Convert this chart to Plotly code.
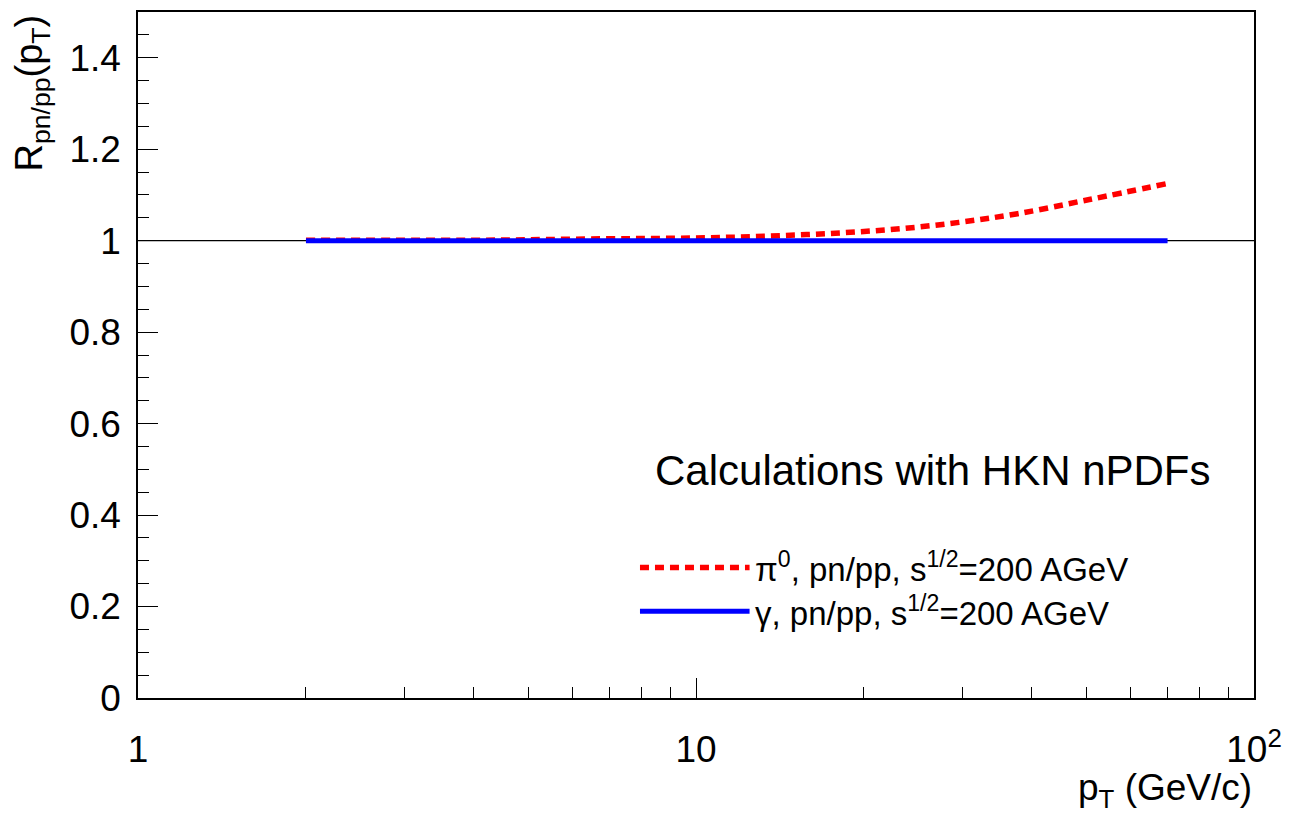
import plotly.graph_objects as go

# Data
pt_pi0 = [2, 3, 4, 5, 6.8, 8.7, 11.1, 14.2, 18.2, 23.2, 29.6, 37.7, 50.7, 70]
r_pi0 = [1.001, 1.001, 1.001, 1.002, 1.004, 1.005, 1.007, 1.011, 1.017, 1.026, 1.040, 1.059, 1.090, 1.125]
pt_gam = [2, 70]
r_gam = [1.0, 1.0]

x_ticks = [1, 10, 100]
x_ticklabels = ["1", "10", "10<sup>2</sup>"]
x_minor = [2, 3, 4, 5, 6, 7, 8, 9, 20, 30, 40, 50, 60, 70, 80, 90]
y_ticks = [0, 0.2, 0.4, 0.6, 0.8, 1.0, 1.2, 1.4]
y_ticklabels = ["0", "0.2", "0.4", "0.6", "0.8", "1", "1.2", "1.4"]

FONT = "Liberation Sans"

fig = go.Figure()
fig.add_trace(go.Scatter(x=pt_pi0, y=r_pi0, mode="lines", line=dict(color="#ff0000", width=5.5, dash="9px,6px", shape="spline"), showlegend=False))
fig.add_trace(go.Scatter(x=pt_gam, y=r_gam, mode="lines", line=dict(color="#0000ff", width=5), showlegend=False))

fig.add_shape(type="line", xref="paper", yref="y", x0=0, x1=1, y0=1, y1=1, line=dict(color="black", width=1.2), layer="below")

# legend samples
fig.add_shape(type="line", xref="paper", yref="paper", x0=0.4498, x1=0.548, y0=0.1904, y1=0.1904, line=dict(color="#ff0000", width=5.5, dash="9px,6px"))
fig.add_shape(type="line", xref="paper", yref="paper", x0=0.4498, x1=0.548, y0=0.1265, y1=0.1265, line=dict(color="#0000ff", width=5))

fig.add_annotation(xref="paper", yref="paper", x=0.551, y=0.1904, xanchor="left", yanchor="middle", showarrow=False,
                   text="π<sup>0</sup>, pn/pp, s<sup>1/2</sup>=200 AGeV", font=dict(family=FONT, size=33, color="black"))
fig.add_annotation(xref="paper", yref="paper", x=0.551, y=0.1265, xanchor="left", yanchor="middle", showarrow=False,
                   text="γ, pn/pp, s<sup>1/2</sup>=200 AGeV", font=dict(family=FONT, size=33, color="black"))
fig.add_annotation(xref="paper", yref="paper", x=0.712, y=0.331, xanchor="center", yanchor="middle", showarrow=False,
                   text="Calculations with HKN nPDFs", font=dict(family=FONT, size=42, color="black"))

# axis titles
fig.add_annotation(xref="paper", yref="paper", x=-0.095, y=1.0, xanchor="center", yanchor="top", showarrow=False, textangle=-90,
                   text="R<sub>pn/pp</sub>(p<sub>T</sub>)", font=dict(family=FONT, size=38, color="black"))
fig.add_annotation(xref="paper", yref="paper", x=1.0, y=-0.170, xanchor="right", yanchor="bottom", showarrow=False,
                   text="p<sub>T</sub> (GeV/c)", font=dict(family=FONT, size=37, color="black"))

fig.update_xaxes(type="log", range=[0, 2], showgrid=False, zeroline=False,
                 showline=True, linecolor="black", linewidth=1.5, mirror=True,
                 ticks="inside", ticklen=20, tickcolor="black", tickwidth=1,
                 tickmode="array", tickvals=x_ticks, ticktext=x_ticklabels,
                 tickfont=dict(family=FONT, size=37, color="black"), ticklabelstandoff=18,
                 minor=dict(ticks="inside", ticklen=11, tickcolor="black", tickwidth=1, tickmode="array", tickvals=x_minor, showgrid=False))
fig.update_yaxes(range=[0, 1.5], showgrid=False, zeroline=False,
                 showline=True, linecolor="black", linewidth=1.5, mirror=True,
                 ticks="inside", ticklen=20, tickcolor="black", tickwidth=1,
                 tickmode="array", tickvals=y_ticks, ticktext=y_ticklabels,
                 tickfont=dict(family=FONT, size=37, color="black"), ticklabelstandoff=8,
                 minor=dict(ticks="inside", ticklen=11, tickcolor="black", tickwidth=1, dtick=0.05, showgrid=False))

fig.update_layout(width=1286, height=808, margin=dict(l=130, r=40, t=2, b=118),
                  plot_bgcolor="white", paper_bgcolor="white", showlegend=False)

fig.write_html("out.html")
